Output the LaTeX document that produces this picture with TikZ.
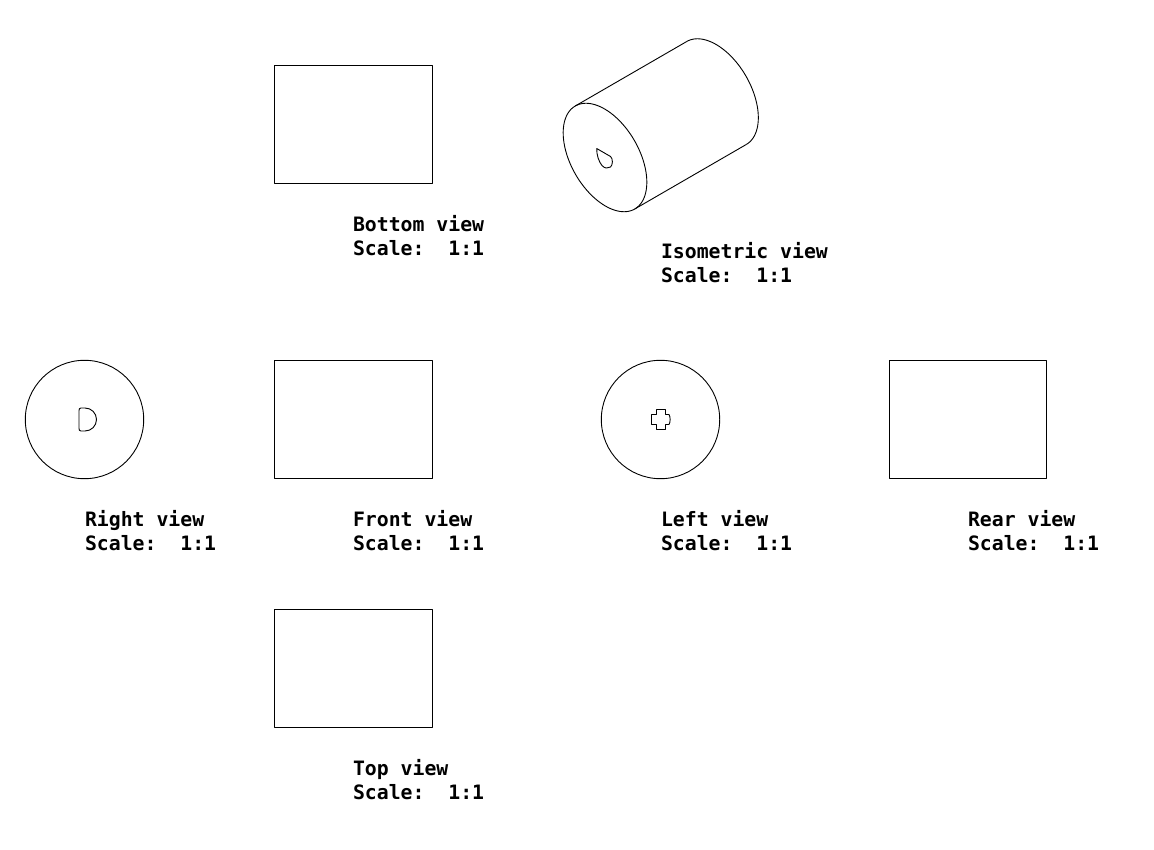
\documentclass[tikz,border=0pt]{standalone}
\usepackage{fontspec}
\setmainfont{DejaVu Sans Mono}
\tikzset{
  x=1pt,y=-1pt,
  viewline/.style={draw=black,line width=0.9pt,line join=round},
  viewlabel/.style={anchor=base west,inner sep=0pt,outer sep=0pt,font=\fontsize{19.8}{24}\selectfont\bfseries},
}
\newcommand{\viewcaption}[4]{%
  \node[viewlabel] (#1a) at (#2,#3) {#4 view};
  \node[viewlabel] (#1b) at (#2,#3+24) {Scale:~~1:1};
}
\begin{document}
\begin{tikzpicture}
\useasboundingbox (0,0) rectangle (1154,850);
% flat views
\draw[viewline] (274.5,65.5) rectangle (432.5,183.5);
\draw[viewline] (274.5,360.5) rectangle (432.5,478.5);
\draw[viewline] (889.5,360.5) rectangle (1046.5,478.5);
\draw[viewline] (274.5,609.5) rectangle (432.5,727.5);
\draw[viewline] (84.5,419.5) circle[radius=59.2];
\draw[viewline] (660.5,419.5) circle[radius=59.2];
% D-shaped hole
\draw[viewline] (81,408) -- (85,408) arc[start angle=90,end angle=-90,x radius=11.5,y radius=-11.5] -- (81,431)
  .. controls (79.5,431) and (79,430) .. (79,428.5) -- (79,410.5) .. controls (79,409) and (79.5,408) .. (81,408) -- cycle;
% cross-shaped hole
\draw[viewline] (656.5,409.5) -- (665.5,409.5) -- (665.5,414.5) -- (669,414.5)
  .. controls (670.5,416.5) and (670.5,422.5) .. (669,424.5) -- (665.5,424.5) -- (665.5,429.5)
  -- (656.5,429.5) -- (656.5,424.5) -- (651.5,424.5) -- (651.5,414.5) -- (656.5,414.5) -- cycle;
% isometric cylinder
\draw[viewline,domain=0:360,samples=120,smooth,variable=\t]
  plot ({605+29.75*cos(\t)+29.4*sin(\t)},{157.5+51.5*cos(\t)-17*sin(\t)}) -- cycle;
\draw[viewline,domain=0:180,samples=60,smooth,variable=\t]
  plot ({716.5+29.75*cos(\t)+29.4*sin(\t)},{93+51.5*cos(\t)-17*sin(\t)});
\coordinate (frontTop) at ({605-29.75},{157.5-51.5});
\coordinate (frontBot) at ({605+29.75},{157.5+51.5});
\coordinate (backTop) at ({716.5-29.75},{93-51.5});
\coordinate (backBot) at ({716.5+29.75},{93+51.5});
\draw[viewline] (frontTop) -- (backTop);
\draw[viewline] (frontBot) -- (backBot);
% drop-shaped hole
\draw[viewline] (596.7,148.5) -- (610.5,156.5) .. controls (613,158.5) and (613,165) .. (610.5,167)
  .. controls (608,168.8) and (604.5,168.5) .. (602,165.5) .. controls (599,162) and (596.5,155) .. (596.7,148.5) -- cycle;
% captions
\viewcaption{bottom}{353}{232}{Bottom}
\viewcaption{iso}{661}{259}{Isometric}
\viewcaption{right}{85}{526}{Right}
\viewcaption{front}{353}{526}{Front}
\viewcaption{left}{661}{526}{Left}
\viewcaption{rear}{968}{526}{Rear}
\viewcaption{top}{353}{775}{Top}
\end{tikzpicture}
\end{document}
